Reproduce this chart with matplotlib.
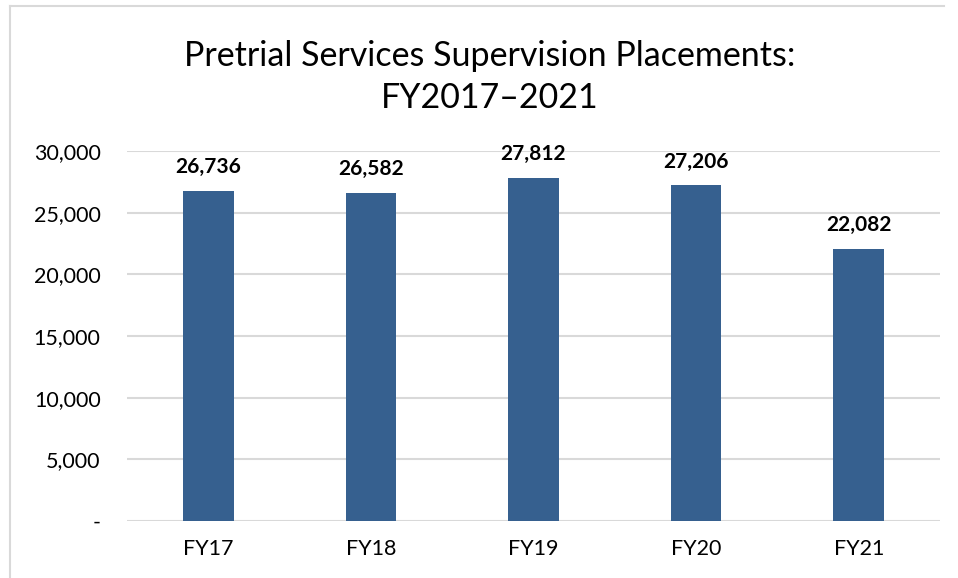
import matplotlib
matplotlib.use("Agg")
import matplotlib.pyplot as plt
import matplotlib.ticker as mticker
from matplotlib.lines import Line2D

# ── data ──────────────────────────────────────────────────────────────────
YEARS = ["FY17", "FY18", "FY19", "FY20", "FY21"]
PLACEMENTS = [26736, 26582, 27812, 27206, 22082]
Y_TICKS = [0, 5000, 10000, 15000, 20000, 25000, 30000]

BAR = "#36608F"
GRID = "#D9D9D9"

plt.rcParams["font.family"] = ["Lato", "DejaVu Sans"]

fig = plt.figure(figsize=(9.58, 5.78), dpi=100)
ax = fig.add_axes([127 / 958, 1 - 521 / 578, 813 / 958, 370 / 578])

x = range(len(YEARS))
bars = ax.bar(x, PLACEMENTS, width=0.31, color=BAR, zorder=3)
for b, v in zip(bars, PLACEMENTS):
    ax.annotate(f"{v:,}", (b.get_x() + b.get_width() / 2, v),
                xytext=(0, 10), textcoords="offset points",
                ha="center", va="bottom", fontsize=15, fontweight="bold")

ax.set_xlim(-0.5, len(YEARS) - 0.5)
ax.set_ylim(0, 30000)
ax.set_yticks(Y_TICKS)
ax.yaxis.set_major_formatter(mticker.FuncFormatter(
    lambda v, _: "-" if v == 0 else f"{int(v):,}"))
ax.set_xticks(list(x))
ax.set_xticklabels(YEARS)
ax.tick_params(axis="y", length=0, pad=19, labelsize=15.5)
ax.tick_params(axis="x", length=0, pad=13, labelsize=15.5)
ax.grid(axis="y", color=GRID, linewidth=1.5, zorder=0)
for s in ax.spines.values():
    s.set_visible(False)

fig.text(490 / 958, 1 - 77 / 578, "Pretrial Services Supervision Placements:\nFY2017\u20132021",
         ha="center", va="center", fontsize=24.5, linespacing=1.4)

# chart border (left and top edges visible)
fig.add_artist(Line2D([10 / 958, 10 / 958], [0, 1 - 6 / 578], color=GRID, linewidth=1.5))
fig.add_artist(Line2D([10 / 958, 944 / 958], [1 - 6 / 578, 1 - 6 / 578], color=GRID, linewidth=1.5))

fig.savefig("out.png", dpi=100, facecolor="white")
